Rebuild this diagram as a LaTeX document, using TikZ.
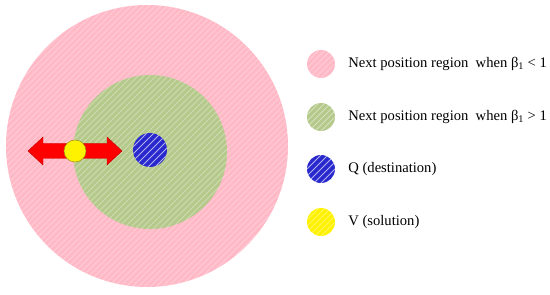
\documentclass[tikz,border=0pt]{standalone}
\usepackage{fontspec}
\setmainfont{Liberation Serif}
\usepackage{xcolor}
\usetikzlibrary{positioning, calc}

\definecolor{pinkreg}{RGB}{255,184,198}
\definecolor{greenreg}{RGB}{180,201,138}
\definecolor{destblue}{RGB}{40,40,205}

% white diagonal hatching inside a disc: centre, radius, opacity, gap
\newcommand{\hatchdisc}[4]{%
  \begin{scope}
    \clip #1 circle (#2);
    \foreach \i [evaluate=\i as \k using \i*#4-2*#2-10] in {0,...,120}
      \draw[white, opacity=#3, line width=0.8pt]
        ($#1+(\k-#2,-#2-10)$) -- ++(2*#2+40,2*#2+40);
  \end{scope}}

\begin{document}
\begin{tikzpicture}[
    x=1pt, y=1pt,
    legdot/.style={circle, minimum size=28pt, inner sep=0pt},
    legtext/.style={anchor=west, font=\fontsize{14.6}{16}\selectfont, inner sep=0pt},
]
\useasboundingbox (0,0) rectangle (550,295);

% --- Regions ---
\fill[pinkreg] (147,149) circle (141);
\hatchdisc{(147,149)}{141}{0.3}{6}
\fill[greenreg] (150,143) circle (77);
\hatchdisc{(150,143)}{77}{0.35}{6}
\fill[destblue] (150,145) circle (17);
\hatchdisc{(150,145)}{17}{0.65}{7}

% --- Moving solution ---
\filldraw[red, draw=red!75!black, line width=0.4pt]
    (28,144) -- (43,158) -- (43,151.5) -- (107,151.5) -- (107,158)
    -- (122,144) -- (107,130) -- (107,136.5) -- (43,136.5) -- (43,130)
    -- cycle;
\node[circle, minimum size=22pt, inner sep=0pt, fill=yellow,
      draw=olive!90, line width=0.5pt] (sol) at (75,144) {};

% --- Legend ---
\node[legdot, fill=pinkreg] (leg1) at (321,231) {};
\hatchdisc{(321,231)}{14}{0.3}{6}
\node[legdot, fill=greenreg] (leg2) at (321,178) {};
\hatchdisc{(321,178)}{14}{0.45}{6}
\node[legdot, fill=destblue] (leg3) at (321,126) {};
\hatchdisc{(321,126)}{14}{0.65}{7}
\node[legdot, fill=yellow] (leg4) at (321,73) {};
\hatchdisc{(321,73)}{14}{0.35}{6}

\node[legtext, right=13pt of leg1] (txt1)
    {Next position region~ when β\textsubscript{1} < 1};
\node[legtext, right=13pt of leg2] (txt2)
    {Next position region~ when β\textsubscript{1} > 1};
\node[legtext, right=13pt of leg3] (txt3) {Q (destination)};
\node[legtext, right=13pt of leg4] (txt4) {V (solution)};
\end{tikzpicture}
\end{document}
